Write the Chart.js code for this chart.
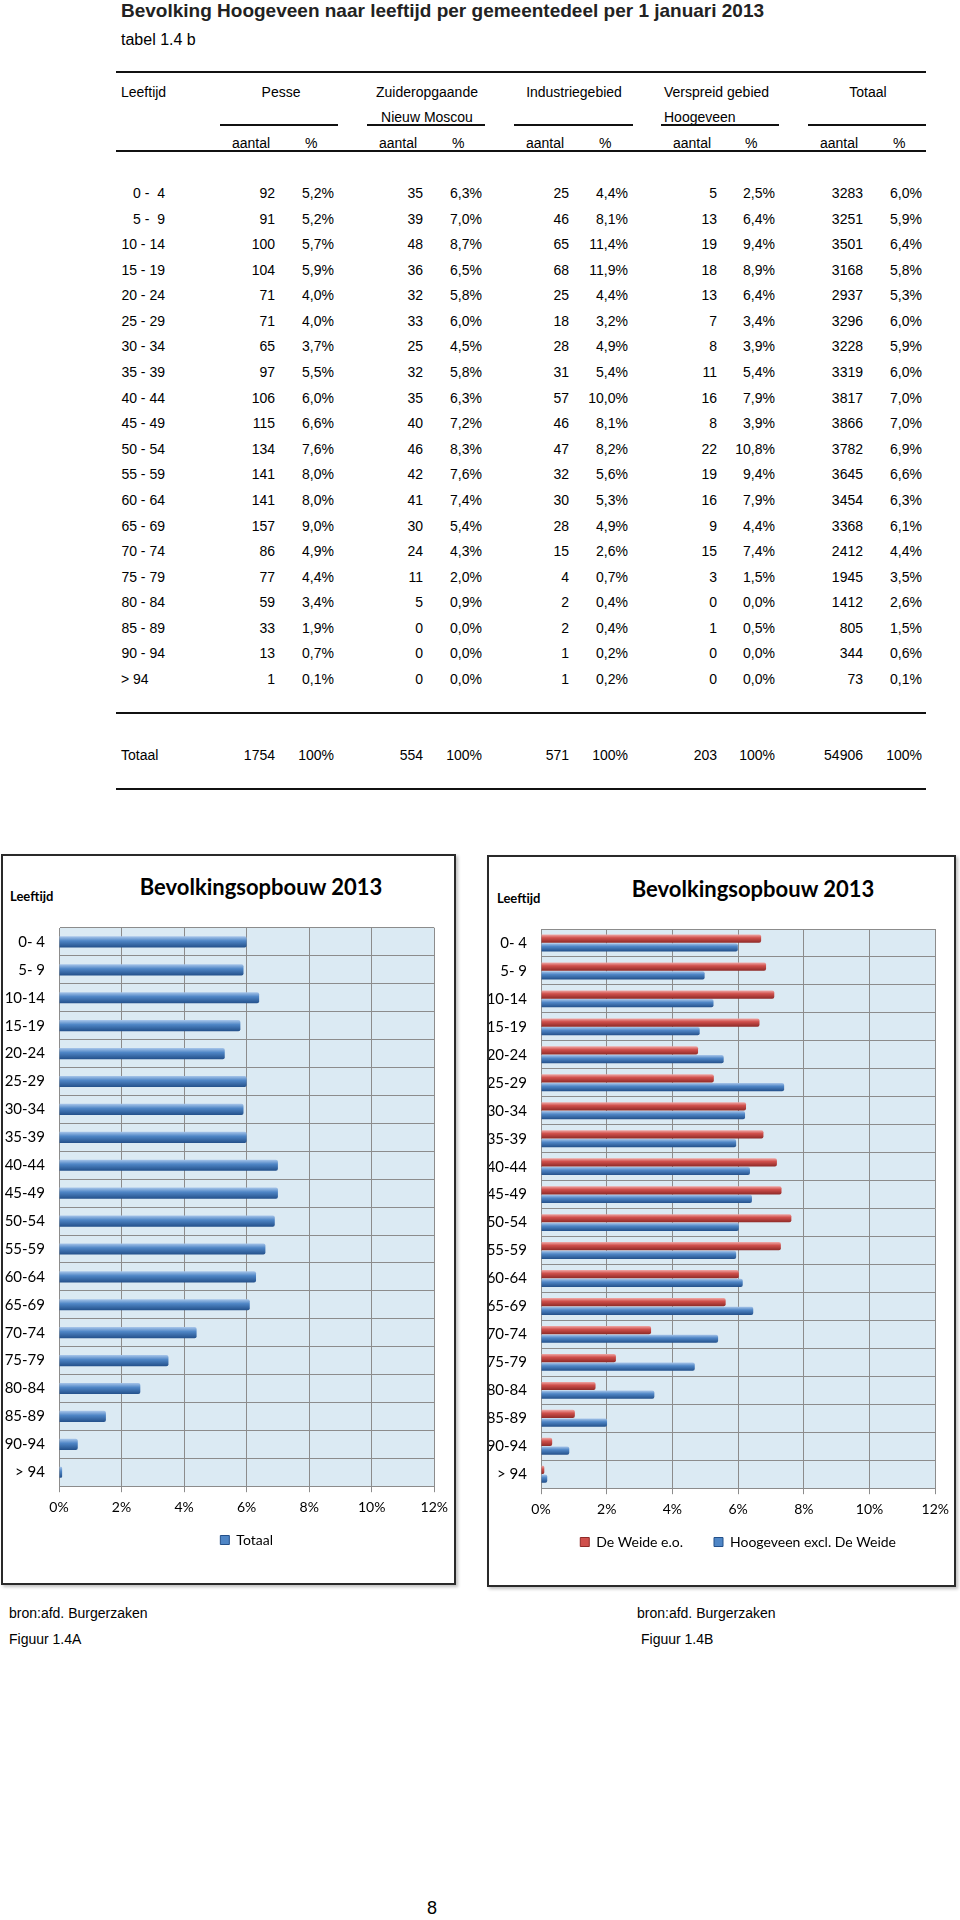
<!DOCTYPE html>
<html>
<head>
<meta charset="utf-8">
<script src="https://cdn.jsdelivr.net/npm/chart.js@4"></script>
<style>
  body { margin: 0; background: #fff; }
  #page { position: relative; width: 960px; height: 1920px; overflow: hidden;
          font-family: "Liberation Sans", Arial, sans-serif; color: #000; }
  .t { position: absolute; white-space: pre; line-height: 1; }
  .rule { position: absolute; background: #111; }
  .frame { position: absolute; box-sizing: border-box; border: 2px solid #2a2a2a;
           background: #fff; box-shadow: 2px 2px 3px rgba(0,0,0,.25); }
  .cv { position: absolute; }
</style>
</head>
<body>
<div id="page">
  <div class="frame" style="left:1px;top:854px;width:455px;height:731px"></div>
  <div class="frame" style="left:487px;top:855px;width:469px;height:732px"></div>
  <div class="cv" style="left:3px;top:905px;width:452px;height:660px"><canvas id="chartA"></canvas></div>
  <div class="cv" style="left:489px;top:906px;width:467px;height:661px"><canvas id="chartB"></canvas></div>
</div>
<script>
// table rows
const ageRows = ['0 -  4', '5 -  9', '10 - 14', '15 - 19', '20 - 24', '25 - 29', '30 - 34',
  '35 - 39', '40 - 44', '45 - 49', '50 - 54', '55 - 59', '60 - 64', '65 - 69', '70 - 74',
  '75 - 79', '80 - 84', '85 - 89', '90 - 94', '> 94'];
// chart category labels
const ageBars = ['0- 4', '5- 9', '10-14', '15-19', '20-24', '25-29', '30-34', '35-39',
  '40-44', '45-49', '50-54', '55-59', '60-64', '65-69', '70-74', '75-79', '80-84',
  '85-89', '90-94', '> 94'];

const pesseN = [92, 91, 100, 104, 71, 71, 65, 97, 106, 115, 134, 141, 141, 157, 86, 77, 59, 33, 13, 1];
const pesseP = [5.2, 5.2, 5.7, 5.9, 4.0, 4.0, 3.7, 5.5, 6.0, 6.6, 7.6, 8.0, 8.0, 9.0, 4.9, 4.4, 3.4, 1.9, 0.7, 0.1];
const zuidN = [35, 39, 48, 36, 32, 33, 25, 32, 35, 40, 46, 42, 41, 30, 24, 11, 5, 0, 0, 0];
const zuidP = [6.3, 7.0, 8.7, 6.5, 5.8, 6.0, 4.5, 5.8, 6.3, 7.2, 8.3, 7.6, 7.4, 5.4, 4.3, 2.0, 0.9, 0.0, 0.0, 0.0];
const indN = [25, 46, 65, 68, 25, 18, 28, 31, 57, 46, 47, 32, 30, 28, 15, 4, 2, 2, 1, 1];
const indP = [4.4, 8.1, 11.4, 11.9, 4.4, 3.2, 4.9, 5.4, 10.0, 8.1, 8.2, 5.6, 5.3, 4.9, 2.6, 0.7, 0.4, 0.4, 0.2, 0.2];
const verspN = [5, 13, 19, 18, 13, 7, 8, 11, 16, 8, 22, 19, 16, 9, 15, 3, 0, 1, 0, 0];
const verspP = [2.5, 6.4, 9.4, 8.9, 6.4, 3.4, 3.9, 5.4, 7.9, 3.9, 10.8, 9.4, 7.9, 4.4, 7.4, 1.5, 0.0, 0.5, 0.0, 0.0];
const totN = [3283, 3251, 3501, 3168, 2937, 3296, 3228, 3319, 3817, 3866, 3782, 3645, 3454, 3368, 2412, 1945, 1412, 805, 344, 73];
const totP = [6.0, 5.9, 6.4, 5.8, 5.3, 6.0, 5.9, 6.0, 7.0, 7.0, 6.9, 6.6, 6.3, 6.1, 4.4, 3.5, 2.6, 1.5, 0.6, 0.1];
const colTotals = [1754, 554, 571, 203, 54906];

// figuur 1.4B (%)
const deWeide = [6.70, 6.85, 7.10, 6.65, 4.78, 5.26, 6.24, 6.77, 7.18, 7.32, 7.62, 7.30, 6.02, 5.62, 3.35, 2.28, 1.66, 1.03, 0.34, 0.10];
const hoogExcl = [5.99, 4.98, 5.25, 4.83, 5.56, 7.40, 6.21, 5.94, 6.36, 6.42, 6.02, 5.94, 6.14, 6.46, 5.39, 4.68, 3.45, 2.01, 0.86, 0.19];
const xTicks = [0, 2, 4, 6, 8, 10, 12];

const page = document.getElementById('page');

function txt(x, y, s, size, align, extra) {
  const d = document.createElement('div');
  d.className = 't';
  d.textContent = s;
  const tx = align === 'right' ? '-100%' : align === 'center' ? '-50%' : '0';
  d.style.cssText = `left:${x}px;top:${y}px;font-size:${size}px;transform:translate(${tx},-50%);` + (extra || '');
  page.appendChild(d);
}
function rule(x1, x2, y, h) {
  const d = document.createElement('div');
  d.className = 'rule';
  d.style.cssText = `left:${x1}px;top:${y - h / 2}px;width:${x2 - x1}px;height:${h}px`;
  page.appendChild(d);
}
const pct = v => v.toFixed(1).replace('.', ',') + '%';

// heading
txt(121, 10, 'Bevolking Hoogeveen naar leeftijd per gemeentedeel per 1 januari 2013', 19, 'left', 'font-weight:bold;color:#222');
txt(121, 40, 'tabel 1.4 b', 16, 'left');

// table header
rule(116, 926, 72, 2);
txt(121, 92, 'Leeftijd', 14, 'left');
txt(281, 92, 'Pesse', 14, 'center');
txt(427, 92, 'Zuideropgaande', 14, 'center');
txt(574, 92, 'Industriegebied', 14, 'center');
txt(664, 92, 'Verspreid gebied', 14, 'left');
txt(868, 92, 'Totaal', 14, 'center');
txt(427, 117, 'Nieuw Moscou', 14, 'center');
txt(664, 117, 'Hoogeveen', 14, 'left');
const segs = [[220, 338], [367, 485], [514, 633], [661, 779], [808, 926]];
segs.forEach(s => rule(s[0], s[1], 125, 1.5));
const aantalX = [232, 379, 526, 673, 820];
const pctX = [305, 452, 599, 745, 893];
aantalX.forEach((x, i) => {
  txt(x, 143, 'aantal', 14, 'left');
  txt(pctX[i], 143, '%', 14, 'left');
});
rule(116, 926, 151, 2);

// table body
const cols = [[275, 334], [423, 482], [569, 628], [717, 775], [863, 922]];
const series = [[pesseN, pesseP], [zuidN, zuidP], [indN, indP], [verspN, verspP], [totN, totP]];
ageRows.forEach((lab, r) => {
  const y = 193 + r * 25.58;
  if (lab.startsWith('>')) txt(121, y, lab, 14, 'left');
  else txt(165, y, lab, 14, 'right');
  series.forEach((s, c) => {
    txt(cols[c][0], y, String(s[0][r]), 14, 'right');
    txt(cols[c][1], y, pct(s[1][r]), 14, 'right');
  });
});
rule(116, 926, 713, 2);
txt(121, 755, 'Totaal', 14, 'left');
colTotals.forEach((v, c) => {
  txt(cols[c][0], 755, String(v), 14, 'right');
  txt(cols[c][1], 755, '100%', 14, 'right');
});
rule(116, 926, 789, 2);

// chart headings
txt(261, 887, 'Bevolkingsopbouw 2013', 22, 'center', 'font-family:Lato,sans-serif;font-weight:bold');
txt(753, 889, 'Bevolkingsopbouw 2013', 22, 'center', 'font-family:Lato,sans-serif;font-weight:bold');
txt(10, 896, 'Leeftijd', 13, 'left', 'font-family:Lato,sans-serif;font-weight:bold');
txt(497, 898, 'Leeftijd', 13, 'left', 'font-family:Lato,sans-serif;font-weight:bold');

// captions
txt(9, 1613, 'bron:afd. Burgerzaken', 14, 'left');
txt(9, 1639, 'Figuur 1.4A', 14, 'left');
txt(637, 1613, 'bron:afd. Burgerzaken', 14, 'left');
txt(641, 1639, 'Figuur 1.4B', 14, 'left');
txt(432, 1908, '8', 18, 'center');

// charts
Chart.defaults.font.family = 'Lato, sans-serif';
Chart.defaults.color = '#000';
Chart.defaults.animation = false;

const BLUE = ['#a8c6ea', '#4f86c6', '#23508a'];
const RED = ['#f0aaa8', '#d0504c', '#8e2a27'];
const GRID = '#8c8c8c';

const plotBg = {
  id: 'plotBg',
  beforeDraw(chart) {
    const { ctx, chartArea: a } = chart;
    ctx.save();
    ctx.fillStyle = '#dbeaf3';
    ctx.fillRect(a.left, a.top, a.width, a.height);
    ctx.restore();
  }
};

function makeChart(id, datasets, shades, padding, yWidth, catPct, barPct) {
  const chart = new Chart(document.getElementById(id), {
    type: 'bar',
    data: {
      labels: ageBars,
      datasets: datasets.map((d, i) => ({
        label: d.label,
        data: d.data,
        backgroundColor: shades[i][1],
        borderRadius: 2,
        borderSkipped: 'start',
        categoryPercentage: catPct,
        barPercentage: barPct,
      })),
    },
    options: {
      indexAxis: 'y',
      responsive: true,
      maintainAspectRatio: false,
      layout: { padding: padding },
      plugins: {
        tooltip: { enabled: false },
        legend: {
          position: 'bottom',
          fullSize: false,
          labels: {
            boxWidth: 9,
            boxHeight: 9,
            padding: 10,
            font: { size: 14 },
            // wider gap between the two entries, as in the original legend
            generateLabels: c => {
              const items = Chart.defaults.plugins.legend.labels.generateLabels(c);
              return items.map((l, i) => Object.assign(l, {
                text: i < items.length - 1 ? l.text + '\u2003\u2003' : l.text,
                fillStyle: shades[i][1], strokeStyle: shades[i][2], lineWidth: 1,
              }));
            },
          },
        },
      },
      scales: {
        x: {
          min: 0,
          max: 12,
          afterBuildTicks: s => { s.ticks = xTicks.map(v => ({ value: v })); },
          ticks: { callback: v => v + '%', font: { size: 14 }, padding: 7 },
          grid: { color: GRID, tickLength: 6 },
          border: { color: GRID },
        },
        y: {
          afterFit: s => { s.width = yWidth; },
          ticks: { font: { size: 15 }, padding: 14, autoSkip: false },
          grid: { color: GRID, drawTicks: false },
          border: { color: GRID },
        },
      },
    },
    plugins: [plotBg],
  });

  // cylinder-like shading across each bar, from the laid-out elements
  const ctx = chart.ctx;
  chart.data.datasets.forEach((ds, i) => {
    const c = shades[i];
    ds.backgroundColor = chart.getDatasetMeta(i).data.map(el => {
      const g = ctx.createLinearGradient(0, el.y - el.height / 2, 0, el.y + el.height / 2);
      g.addColorStop(0, c[0]);
      g.addColorStop(0.4, c[1]);
      g.addColorStop(1, c[2]);
      return g;
    });
  });
  chart.update('none');
  return chart;
}

makeChart('chartA', [{ label: 'Totaal', data: totP }], [BLUE],
  { top: 12, left: 0, right: 18, bottom: 8 }, 56, 0.4, 1.0);
makeChart('chartB', [{ label: 'De Weide e.o.', data: deWeide }, { label: 'Hoogeveen excl. De Weide', data: hoogExcl }],
  [RED, BLUE], { top: 12, left: 0, right: 19, bottom: 8 }, 52, 0.62, 0.95);
</script>
</body>
</html>
